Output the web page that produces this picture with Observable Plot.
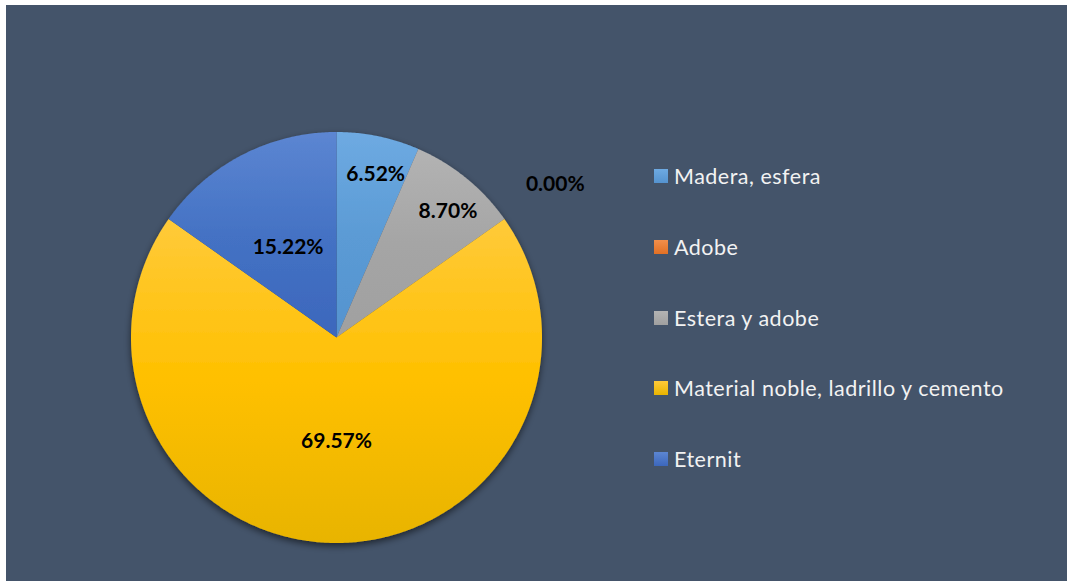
<!DOCTYPE html>
<html>
<head>
<meta charset="utf-8">
<script src="https://cdn.jsdelivr.net/npm/d3@7"></script>
<script src="https://cdn.jsdelivr.net/npm/@observablehq/plot@0.6"></script>
<style>
  html, body { margin: 0; padding: 0; background: #ffffff; }
  body { width: 1067px; height: 584px; position: relative; overflow: hidden; font-family: Lato, "Open Sans", sans-serif; }
  #panel { position: absolute; left: 6px; top: 5px; width: 1061px; height: 576px; background: #44546A; }
  #chart { position: absolute; left: 0; top: 0; }
  #legend { position: absolute; left: 648px; top: 0; }
  .item { position: absolute; left: 0; display: flex; align-items: center; white-space: nowrap; color: #f2f2f2; font-size: 21.5px; letter-spacing: 0.5px; }
  .sw { width: 14px; height: 14px; margin-right: 6px; flex: none; }
</style>
</head>
<body>
<div id="panel"><div id="chart"></div><div id="legend"></div></div>
<script>
// ---- data ----
const categories = ["Madera, esfera", "Adobe", "Estera y adobe", "Material noble, ladrillo y cemento", "Eternit"];
const values = [6.52, 0.00, 8.70, 69.57, 15.22];
const valueLabels = ["6.52%", "0.00%", "8.70%", "69.57%", "15.22%"];

// ---- styles ----
const baseColors = ["#5B9BD5", "#ED7D31", "#A5A5A5", "#FFC000", "#4472C4"];
const topColors = ["#6eaae2", "#f28f4b", "#b3b3b3", "#ffca3a", "#5c86d2"];
const bottomColors = ["#5593cf", "#e27024", "#a0a0a0", "#e8b400", "#3c67bc"];
// label placement tweaks (layout, radius fraction and angle nudge in degrees)
const labelR = [0.815, 1.3, 0.82, 0.505, 0.5];
const labelDA = [1.8, 31.5, 2.3, 0, -0.7];

const W = 1061, H = 576;
const cx = 330, cy = 332, R = 205.5;

const total = d3.sum(values);
const slices = [];
let acc = 0;
categories.forEach((c, i) => {
  const a0 = acc / total * 2 * Math.PI;
  acc += values[i];
  const a1 = acc / total * 2 * Math.PI;
  slices.push({cat: c, i, a0, a1});
});

const pts = [];
slices.forEach(s => {
  if (s.a1 - s.a0 <= 0) return;
  const n = Math.max(2, Math.ceil((s.a1 - s.a0) / (Math.PI / 360)));
  pts.push({cat: s.cat, fill: `url(#grad${s.i})`, x: 0, y: 0});
  for (let k = 0; k <= n; k++) {
    const a = s.a0 + (s.a1 - s.a0) * k / n;
    pts.push({cat: s.cat, fill: `url(#grad${s.i})`, x: Math.sin(a), y: Math.cos(a)});
  }
  pts.push({cat: s.cat, fill: `url(#grad${s.i})`, x: 0, y: 0});
});

const labelData = slices.map(s => {
  const a = (s.a0 + s.a1) / 2 + labelDA[s.i] * Math.PI / 180;
  const r = labelR[s.i];
  return {text: valueLabels[s.i], x: r * Math.sin(a), y: r * Math.cos(a)};
});

const svg = Plot.plot({
  width: W,
  height: H,
  margin: 0,
  style: {background: "transparent", overflow: "visible"},
  x: {domain: [-1, 1], range: [cx - R, cx + R], axis: null},
  y: {domain: [-1, 1], range: [cy + R, cy - R], axis: null},
  color: {type: "identity"},
  marks: [
    Plot.line(pts, {x: "x", y: "y", z: "cat", fill: "fill", stroke: "none", curve: "linear"}),
    Plot.text(labelData, {x: "x", y: "y", text: "text", fill: "#000000", fontWeight: "bold", fontSize: 21, fontFamily: "Lato, 'Open Sans', sans-serif"})
  ]
});

// gradients + shadow
let defs = `<filter id="pieShadow" x="-20%" y="-20%" width="140%" height="140%">
  <feDropShadow dx="0" dy="3" stdDeviation="3.5" flood-color="#000" flood-opacity="0.55"/></filter>`;
baseColors.forEach((c, i) => {
  defs += `<linearGradient id="grad${i}" x1="0" y1="0" x2="0" y2="1">
    <stop offset="0" stop-color="${topColors[i]}"/>
    <stop offset="0.5" stop-color="${c}"/>
    <stop offset="1" stop-color="${bottomColors[i]}"/></linearGradient>`;
});
const d = d3.select(svg).insert("defs", ":first-child");
d.html(defs);
d3.select(svg).select('g[aria-label="line"]').attr("filter", "url(#pieShadow)");

document.getElementById("chart").appendChild(svg);

// legend
const legend = document.getElementById("legend");
const rowCenters = [171.3, 242, 312.6, 383.2, 453.8];
categories.forEach((c, i) => {
  const it = document.createElement("div");
  it.className = "item";
  it.style.top = (rowCenters[i] - 13) + "px";
  it.style.height = "26px";
  const sw = document.createElement("span");
  sw.className = "sw";
  sw.style.background = `linear-gradient(${topColors[i]}, ${bottomColors[i]})`;
  const t = document.createElement("span");
  t.textContent = c;
  it.appendChild(sw);
  it.appendChild(t);
  legend.appendChild(it);
});
</script>
</body>
</html>
